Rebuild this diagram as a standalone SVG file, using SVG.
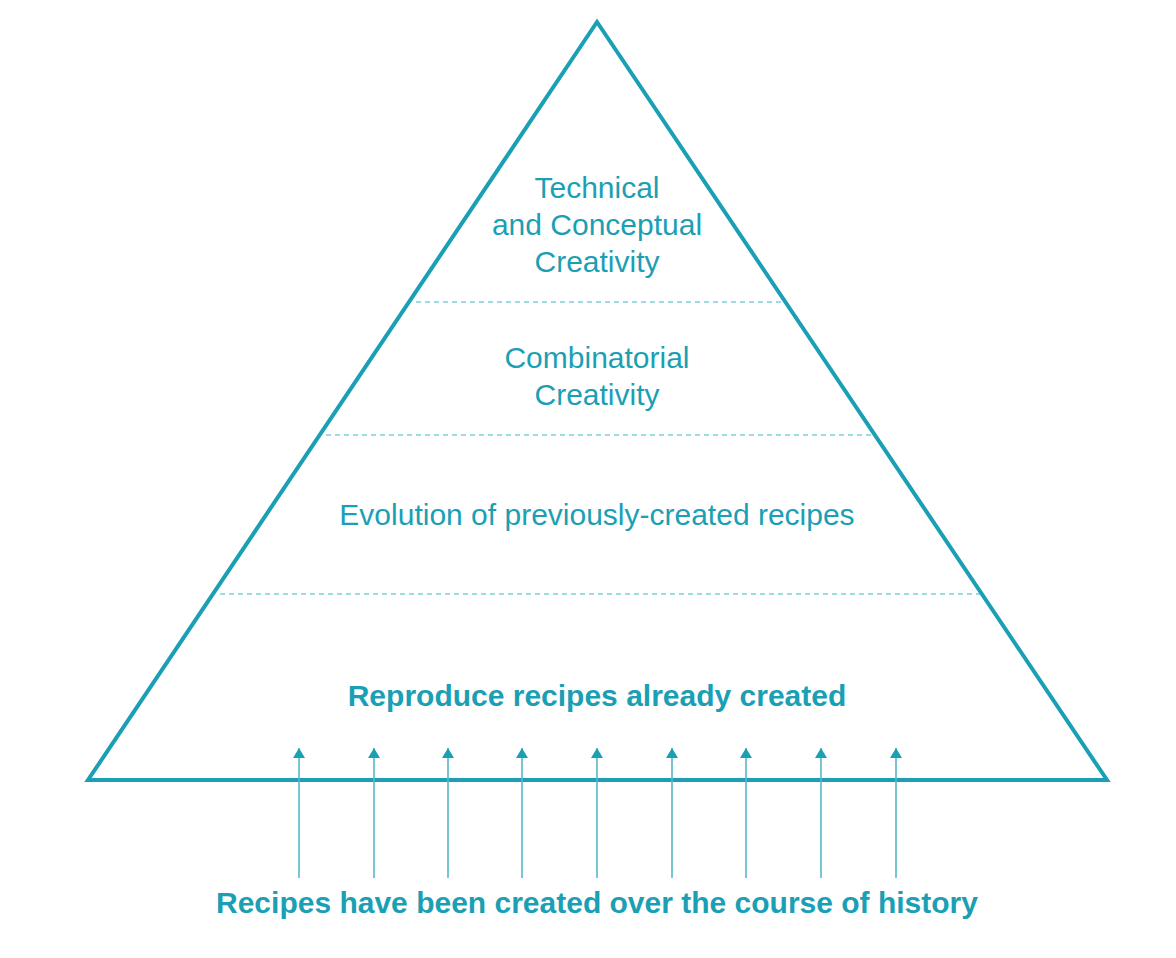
<svg xmlns="http://www.w3.org/2000/svg" width="1176" height="958" viewBox="0 0 1176 958">
<style>
.t{font-family:"Liberation Sans",Arial,sans-serif;font-size:30px;fill:#1a9fb5;text-anchor:middle}
.b{font-weight:bold}
.d{stroke:#3bb8cc;stroke-width:1.2;stroke-dasharray:5,4}
.a{stroke:#55b8c8;stroke-width:1.6;marker-end:url(#m)}
</style>
<defs><marker id="m" viewBox="0 0 10 12" refX="10" refY="6" markerWidth="10" markerHeight="12" markerUnits="userSpaceOnUse" orient="auto"><path d="M0,0 L10,6 L0,12 Z" fill="#1a9fb5"/></marker></defs>
<rect width="1176" height="958" fill="#fff"/>
<g id="pyramid">
<polygon points="597,22 88,780 1107,780" fill="none" stroke="#1a9fb5" stroke-width="4" stroke-linejoin="miter"/>
<line class="d" x1="416" y1="302" x2="784" y2="302"/>
<line class="d" x1="326" y1="435" x2="871" y2="435"/>
<line class="d" x1="220" y1="594" x2="980" y2="594"/>
</g>
<g id="level1"><text class="t" x="597" y="198">Technical</text><text class="t" x="597" y="235">and Conceptual</text><text class="t" x="597" y="272">Creativity</text></g>
<g id="level2"><text class="t" x="597" y="368">Combinatorial</text><text class="t" x="597" y="405">Creativity</text></g>
<g id="level3"><text class="t" x="597" y="525">Evolution of previously-created recipes</text></g>
<g id="level4"><text class="t b" x="597" y="706">Reproduce recipes already created</text></g>
<g id="connectors">
<line class="a" x1="299" y1="878" x2="299" y2="748"/>
<line class="a" x1="374" y1="878" x2="374" y2="748"/>
<line class="a" x1="448" y1="878" x2="448" y2="748"/>
<line class="a" x1="522" y1="878" x2="522" y2="748"/>
<line class="a" x1="597" y1="878" x2="597" y2="748"/>
<line class="a" x1="672" y1="878" x2="672" y2="748"/>
<line class="a" x1="746" y1="878" x2="746" y2="748"/>
<line class="a" x1="821" y1="878" x2="821" y2="748"/>
<line class="a" x1="896" y1="878" x2="896" y2="748"/>
</g>
<g id="history"><text class="t b" x="597" y="913">Recipes have been created over the course of history</text></g>
</svg>
